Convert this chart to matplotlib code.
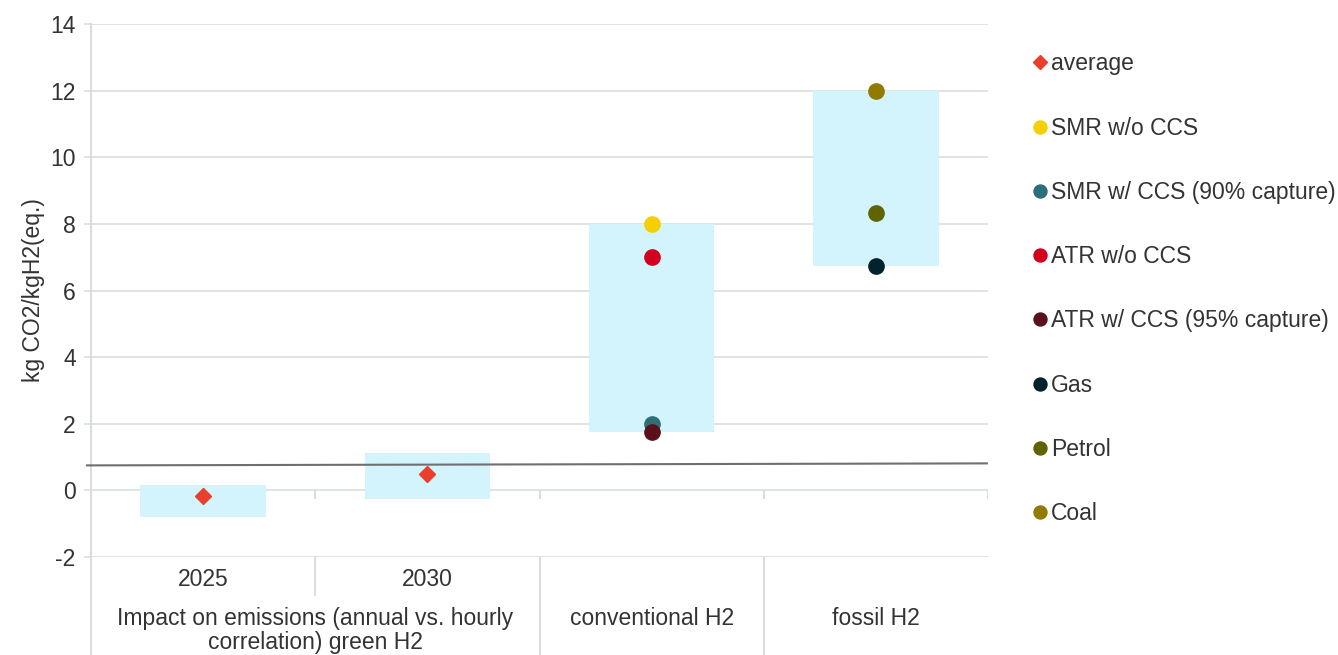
import numpy as np
import matplotlib.pyplot as plt

plt.rcParams['font.family'] = ['Liberation Sans', 'DejaVu Sans']
plt.rcParams['axes.unicode_minus'] = False

# data
years = ['2025', '2030']
groups = ['Impact on emissions (annual vs. hourly\ncorrelation) green H2', 'conventional H2', 'fossil H2']
range_low = [-0.8, -0.25, 1.75, 6.75]
range_high = [0.15, 1.12, 8.0, 12.0]
nan = np.nan
average = [-0.18, 0.48, nan, nan]
smr_wo_ccs = [nan, nan, 8.0, nan]
smr_w_ccs = [nan, nan, 2.0, nan]
atr_wo_ccs = [nan, nan, 7.0, nan]
atr_w_ccs = [nan, nan, 1.75, nan]
gas = [nan, nan, nan, 6.75]
petrol = [nan, nan, nan, 8.32]
coal = [nan, nan, nan, 12.0]
threshold_x = [-0.018, 3.995]
threshold = [0.75, 0.81]

series = [
    ('SMR w/o CCS', smr_wo_ccs, '#f5cf00'),
    ('SMR w/ CCS (90% capture)', smr_w_ccs, '#2d6f79'),
    ('ATR w/o CCS', atr_wo_ccs, '#d3001d'),
    ('ATR w/ CCS (95% capture)', atr_w_ccs, '#5c101e'),
    ('Gas', gas, '#02222e'),
    ('Petrol', petrol, '#5f6400'),
    ('Coal', coal, '#917a00'),
]

txt = '#333333'
grid_c = '#d8dfda'
fs = 16.5

fig = plt.figure(figsize=(13.38, 6.55), dpi=100)
ax = fig.add_axes([91/1338, 1-557/655, (988-91)/1338, (557-24)/655])

x = np.arange(4) + 0.5
lo = np.array(range_low)
hi = np.array(range_high)
ax.bar(x, hi - lo, bottom=lo, width=0.56, color='#d3f4fc', zorder=2)

ax.plot(threshold_x, threshold, color='#6f6f72', lw=1.5, zorder=3, clip_on=False)

h_avg, = ax.plot(x, average, 'D', color='#e8402d', ms=8.5, ls='none', zorder=4, label='average')
handles = [h_avg]
for name, vals, col in series:
    h, = ax.plot(x, vals, 'o', color=col, ms=11, ls='none', zorder=4, label=name)
    handles.append(h)

ax.set_xlim(0, 4)
ax.set_ylim(-2, 14)
ax.set_yticks(range(-2, 15, 2))
ax.yaxis.grid(True, color=grid_c, lw=1.2, zorder=0)
ax.set_axisbelow(True)
ax.set_xticks([])
for s in ['top', 'right', 'bottom']:
    ax.spines[s].set_visible(False)
ax.spines['left'].set_color(grid_c)
ax.spines['left'].set_linewidth(1.5)
ax.tick_params(axis='y', colors=grid_c, labelcolor=txt, labelsize=fs, length=5, width=1.2, pad=6)
ax.set_ylabel('kg CO2/kgH2(eq.)', fontsize=fs, color=txt, labelpad=4)

# small ticks on the zero line at category boundaries
ax.vlines([1, 2, 3, 4], -0.25, 0, color=grid_c, lw=1.5, zorder=1)

# category table below the plot
tr = ax.get_xaxis_transform()
bot = -(655-557)/533
ax.plot([0, 0], [0, bot], color=grid_c, lw=1.5, transform=tr, clip_on=False)
ax.plot([1, 1], [0, -(595-557)/533], color=grid_c, lw=1.5, transform=tr, clip_on=False)
for b in [2, 3]:
    ax.plot([b, b], [0, bot], color=grid_c, lw=1.5, transform=tr, clip_on=False)
for i, yr in enumerate(years):
    ax.text(i + 0.5, -(580-557)/533, yr, transform=tr, ha='center', va='center', fontsize=fs, color=txt)
group_x = [1.0, 2.5, 3.5]
for gx, g in zip(group_x, groups):
    ax.text(gx, -(607-557)/533, g, transform=tr, ha='center', va='top', fontsize=fs, color=txt,
            linespacing=1.08, clip_on=False)

leg = ax.legend(handles=handles, loc='upper left', bbox_to_anchor=(1022/1338, 1-41/655),
                bbox_transform=fig.transFigure, frameon=False, fontsize=fs, borderpad=0,
                handlelength=0.55, handletextpad=0.2, labelspacing=1.8, markerscale=0.85,
                labelcolor=txt)

fig.savefig('out.png', dpi=100)
